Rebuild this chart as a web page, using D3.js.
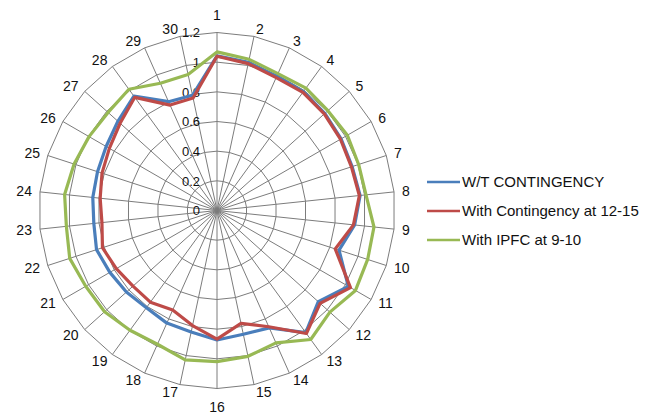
<!DOCTYPE html>
<html>
<head>
<meta charset="utf-8">
<script src="https://cdn.jsdelivr.net/npm/d3@7/dist/d3.min.js"></script>
<style>
  body { margin: 0; background: #ffffff; }
  svg { display: block; }
  text { font-family: "Liberation Sans", Arial, sans-serif; fill: #111; }
</style>
</head>
<body>
<svg id="chart" width="656" height="414"></svg>
<script>
// Bus numbers around the radar
const categories = ["1","2","3","4","5","6","7","8","9","10",
  "11","12","13","14","15","16","17","18","19","20",
  "21","22","23","24","25","26","27","28","29","30"];

// Radial axis ticks
const radialTicks = [0, 0.2, 0.4, 0.6, 0.8, 1, 1.2];
const radialTickLabels = ["0", "0.2", "0.4", "0.6", "0.8", "1", "1.2"];

// Voltage profile per bus (p.u.)
const seriesNames = ["W/T CONTINGENCY", "With Contingency at 12-15", "With IPFC at 9-10"];
const woContingency = [1.042, 1.022, 0.991, 0.990, 0.978, 0.966, 0.958, 0.970, 0.933, 0.865,
  1.022, 0.919, 1.018, 0.866, 0.853, 0.873, 0.838, 0.831, 0.810, 0.822,
  0.834, 0.854, 0.835, 0.842, 0.847, 0.863, 0.899, 0.953, 0.803, 0.794];
const withContingency = [1.040, 1.012, 0.981, 0.985, 0.973, 0.961, 0.953, 0.965, 0.925, 0.838,
  1.039, 0.935, 1.025, 0.858, 0.778, 0.867, 0.793, 0.735, 0.764, 0.762,
  0.784, 0.812, 0.780, 0.792, 0.815, 0.838, 0.879, 0.943, 0.778, 0.775];
const withIPFC = [1.069, 1.042, 1.010, 1.020, 1.006, 1.015, 1.004, 1.010, 1.064, 1.068,
  1.078, 1.024, 1.075, 0.977, 1.005, 1.019, 1.030, 0.987, 0.998, 1.020,
  1.022, 1.044, 1.021, 1.033, 1.013, 0.996, 0.988, 1.010, 0.939, 0.937];

const seriesColors = ["#4A7EBB", "#BE4B48", "#98B954"];
const seriesData = [woContingency, withContingency, withIPFC];

const svg = d3.select("#chart");
const cx = 217, cy = 210.5, R = 178;

const rScale = d3.scaleLinear().domain([0, 1.2]).range([0, R]);
const aScale = d3.scaleLinear().domain([0, categories.length]).range([0, 2 * Math.PI]);

const g = svg.append("g").attr("transform", `translate(${cx},${cy})`);

// Polygon gridlines
const ringLine = d3.lineRadial()
  .angle((d, i) => aScale(i))
  .radius(d => rScale(d))
  .curve(d3.curveLinearClosed);

g.append("g").selectAll("path")
  .data(radialTicks.filter(t => t > 0))
  .join("path")
  .attr("d", t => ringLine(categories.map(() => t)))
  .attr("fill", "none")
  .attr("stroke", "#7c7c7c")
  .attr("stroke-width", 1);

// Spokes
g.append("g").selectAll("line")
  .data(categories)
  .join("line")
  .attr("x1", 0).attr("y1", 0)
  .attr("x2", (d, i) => rScale(1.2) * Math.sin(aScale(i)))
  .attr("y2", (d, i) => -rScale(1.2) * Math.cos(aScale(i)))
  .attr("stroke", "#7c7c7c")
  .attr("stroke-width", 1);

// Radial tick labels along the first spoke
g.append("g").selectAll("text")
  .data(radialTicks)
  .join("text")
  .attr("x", -17)
  .attr("y", t => -rScale(t))
  .attr("dy", "0.36em")
  .attr("text-anchor", "end")
  .attr("font-size", 13)
  .text((t, i) => radialTickLabels[i]);

// Series lines
const seriesLine = d3.lineRadial()
  .angle((d, i) => aScale(i))
  .radius(d => rScale(d))
  .curve(d3.curveLinearClosed);

g.append("g").selectAll("path")
  .data(seriesData)
  .join("path")
  .attr("d", d => seriesLine(d))
  .attr("fill", "none")
  .attr("stroke", (d, i) => seriesColors[i])
  .attr("stroke-width", 3.2)
  .attr("stroke-linejoin", "round");

// Category labels around the outside
const labelR = R + 7.6;
g.append("g").selectAll("text")
  .data(categories)
  .join("text")
  .each(function (d, i) {
    const a = aScale(i);
    const s = Math.sin(a), c = Math.cos(a);
    const x = labelR * s, y = -labelR * c;
    const t = d3.select(this).attr("font-size", 14).text(d);
    if (Math.abs(s) < 1e-6) {
      t.attr("text-anchor", "middle").attr("x", x)
        .attr("y", c > 0 ? y - 5 : y + 15.5);
    } else {
      t.attr("text-anchor", s > 0 ? "start" : "end")
        .attr("x", x + (s > 0 ? 0.5 : -0.5))
        .attr("y", y).attr("dy", "0.36em");
    }
  });

// Legend
const legend = svg.append("g").attr("transform", "translate(427,182)");
const items = legend.selectAll("g")
  .data(seriesNames)
  .join("g")
  .attr("transform", (d, i) => `translate(0,${i * 29})`);
items.append("line")
  .attr("x1", 0).attr("x2", 33)
  .attr("y1", 0).attr("y2", 0)
  .attr("stroke", (d, i) => seriesColors[i])
  .attr("stroke-width", 2.5);
items.append("text")
  .attr("x", 35)
  .attr("y", 0)
  .attr("dy", "0.36em")
  .attr("font-size", 15)
  .text(d => d);
</script>
</body>
</html>
